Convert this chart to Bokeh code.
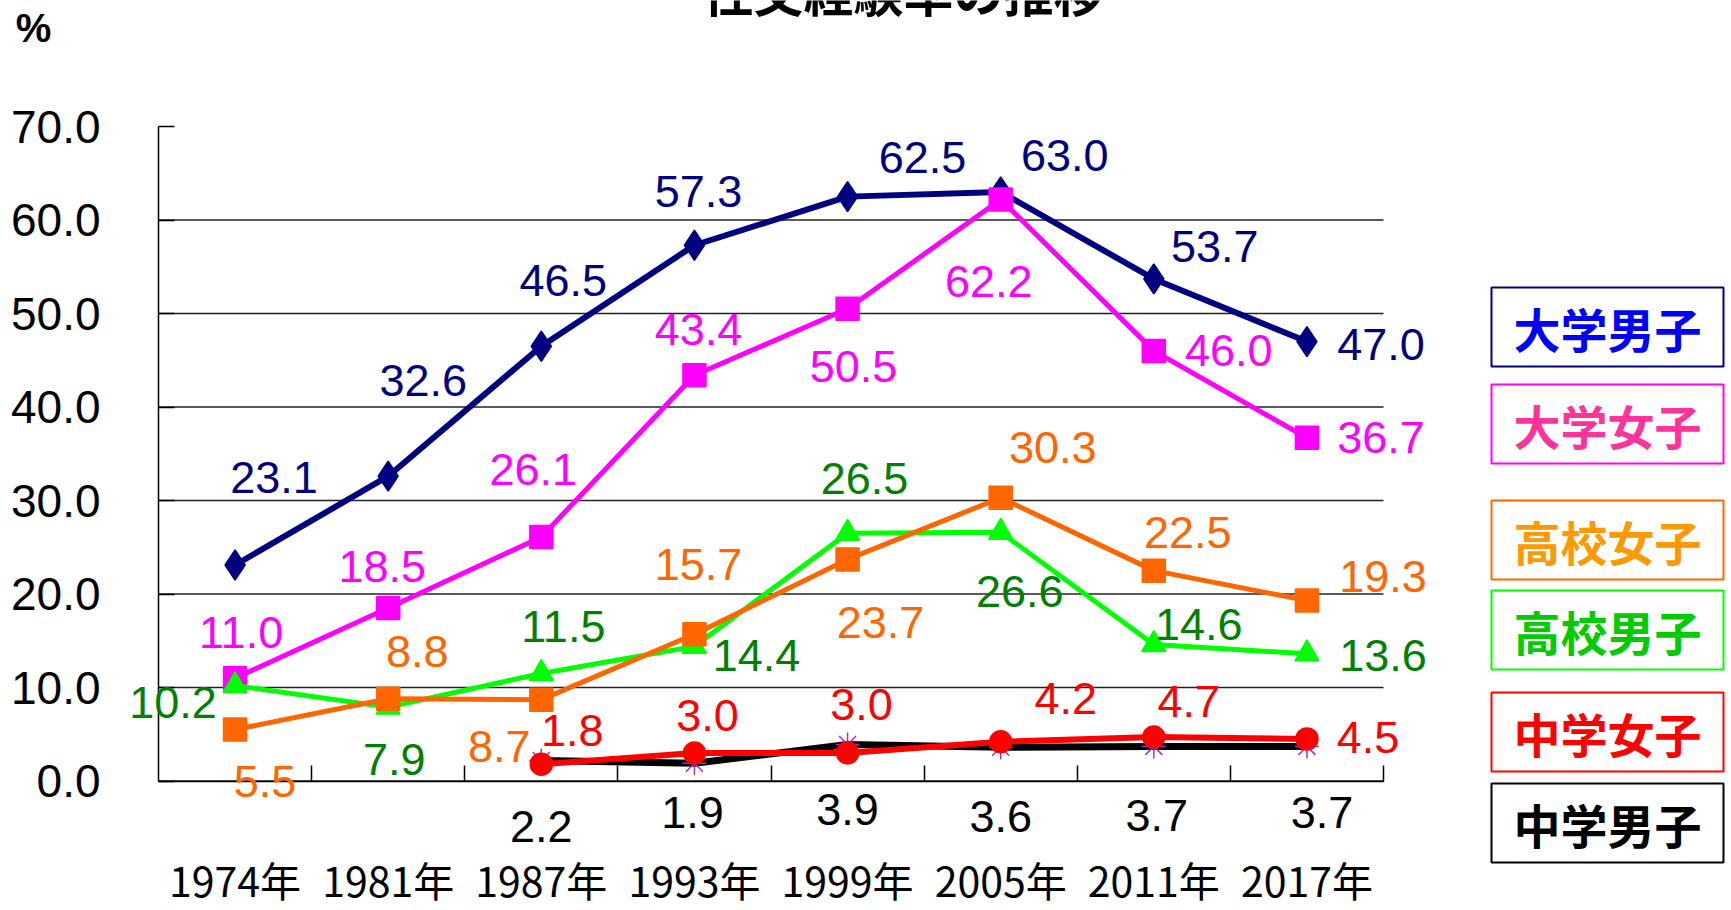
from bokeh.plotting import figure
from bokeh.models import (ColumnDataSource, LabelSet, Label, Range1d,
                          LinearAxis, FixedTicker)
from bokeh.layouts import row
from bokeh.core.properties import value
from bokeh.embed import file_html
from bokeh.resources import INLINE

# ---------------- data ----------------
title_text = "性交経験率の推移"
unit_text = "%"
years = ["1974年", "1981年", "1987年", "1993年", "1999年", "2005年", "2011年", "2017年"]
univ_male = [23.1, 32.6, 46.5, 57.3, 62.5, 63.0, 53.7, 47.0]
univ_female = [11.0, 18.5, 26.1, 43.4, 50.5, 62.2, 46.0, 36.7]
hs_female = [5.5, 8.8, 8.7, 15.7, 23.7, 30.3, 22.5, 19.3]
hs_male = [10.2, 7.9, 11.5, 14.4, 26.5, 26.6, 14.6, 13.6]
jh_female = [None, None, 1.8, 3.0, 3.0, 4.2, 4.7, 4.5]
jh_male = [None, None, 2.2, 1.9, 3.9, 3.6, 3.7, 3.7]
y_ticks = [0, 10, 20, 30, 40, 50, 60, 70]
legend_names = ["大学男子", "大学女子", "高校女子", "高校男子", "中学女子", "中学男子"]

# ---------------- layout / style (label offsets in px: dx right, dy down) ----------------
off_univ_male = [(39, -88), (35, -96), (22, -66), (4, -54), (75, -39), (64, -36), (61, -32), (74, 3)]
off_univ_female = [(6, -46), (-6, -42), (-8, -67), (4, -46), (6, 58), (-12, 82), (75, 0), (74, 0)]
off_hs_female = [(30, 52), (29, -47), (-42, 47), (4, -70), (33, 63), (52, -50), (34, -38), (76, -24)]
off_hs_male = [(-62, 17), (6, 52), (22, -47), (62, 9), (17, -55), (19, 59), (45, -20), (76, 2)]
off_jh_female = [None, None, (31, -34), (13, -37), (14, -48), (65, -43), (35, -36), (61, -1)]
off_jh_male = [None, None, (0, 66), (-2, 49), (0, 65), (0, 69), (3, 69), (15, 66)]

NUM_FONT = "Liberation Sans"
CJK_FONT = "Noto Sans CJK JP"
NUM_SIZE = "45px"

MAIN_W, H = 1456, 910
LEG_W = 275
# pixel position of the plotting area (x: 0..n, y: 0..70) inside the main canvas
AX_L, AX_T, AX_W, AX_H = 158, 126, 1225, 654.5

n = len(years)
y_max = y_ticks[-1]
centers = [i + 0.5 for i in range(n)]          # category slot centres on a 0..n axis
pos = dict(zip(years, centers))

ux = AX_W / n        # px per category
uy = AX_H / y_max    # px per percent
x_range = Range1d(-AX_L / ux, (MAIN_W - AX_L) / ux)
y_range = Range1d(-(H - AX_T - AX_H) / uy, y_max + AX_T / uy)

p = figure(width=MAIN_W, height=H, x_range=x_range, y_range=y_range,
           output_backend="svg", toolbar_location=None,
           x_axis_location=None, y_axis_location=None, min_border=0)
p.outline_line_color = None
p.background_fill_color = "white"
p.border_fill_color = "white"
p.grid.visible = False

# free pixel coordinates (canvas px, origin top-left) for title / unit text
p.extra_x_ranges = {"px": Range1d(0, MAIN_W)}
p.extra_y_ranges = {"px": Range1d(H, 0)}

# horizontal gridlines at the y ticks (below 70), spanning the category axis
p.segment(x0=0, x1=n, y0=y_ticks[:-1], y1=y_ticks[:-1], line_color="#222222", line_width=1.3)

# y axis: line + inward ticks, labels drawn as a label set
yaxis = LinearAxis(fixed_location=0, bounds=(0, y_max),
                   ticker=FixedTicker(ticks=y_ticks),
                   major_tick_in=16, major_tick_out=0,
                   major_tick_line_color="black", major_tick_line_width=1.5,
                   minor_tick_line_color=None,
                   axis_line_color="black", axis_line_width=1.5,
                   major_label_text_font_size="0px", major_label_text_alpha=0,
                   major_label_standoff=0)
p.add_layout(yaxis, "left")
# x axis: line + inward ticks at category boundaries
xaxis = LinearAxis(fixed_location=0, bounds=(0, n),
                   ticker=FixedTicker(ticks=list(range(1, n + 1))),
                   major_tick_in=16, major_tick_out=0,
                   major_tick_line_color="black", major_tick_line_width=1.5,
                   minor_tick_line_color=None,
                   axis_line_color="black", axis_line_width=1.5,
                   major_label_text_font_size="0px", major_label_text_alpha=0,
                   major_label_standoff=0)
p.add_layout(xaxis, "below")

ytick_src = ColumnDataSource(dict(x=[0] * len(y_ticks), y=y_ticks,
                                  t=[f"{v:.1f}" for v in y_ticks]))
p.add_layout(LabelSet(x="x", y="y", text="t", source=ytick_src, x_offset=-58,
                      text_font=value(NUM_FONT), text_font_size=value("46px"),
                      text_color="black", text_align="right", text_baseline="middle"))
year_src = ColumnDataSource(dict(x=centers, y=[0] * n, t=years))
p.add_layout(LabelSet(x="x", y="y", text="t", source=year_src, y_offset=-98,
                      text_font=value(CJK_FONT), text_font_size=value("41px"),
                      text_color="black", text_align="center", text_baseline="middle"))

series = [
    # values, offsets, line color, marker, marker size, marker fill, marker line, label color, line width
    (univ_male, off_univ_male, "#000080", "diamond", 30, "#000080", "#000080", "#000080", 6),
    (univ_female, off_univ_female, "#FF00FF", "square", 23, "#FF00FF", "#FF00FF", "#FF00FF", 5),
    (hs_male, off_hs_male, "#00FF00", "triangle", 24, "#00FF00", "#00FF00", "#008000", 5),
    (hs_female, off_hs_female, "#FF6600", "square", 23, "#FF6600", "#FF6600", "#FF6600", 5),
    (jh_male, off_jh_male, "#000000", "asterisk", 24, None, "#9933CC", "#000000", 7),
    (jh_female, off_jh_female, "#FF0000", "circle", 22, "#FF0000", "#FF0000", "#FF0000", 6),
]

for vals, offs, lc, mk, ms, mf, ml, tc, lw in series:
    xs, ys, txt, dxs, dys = [], [], [], [], []
    for yr, v, o in zip(years, vals, offs):
        if v is None:
            continue
        xs.append(pos[yr])
        ys.append(v)
        txt.append(f"{v:.1f}")
        dxs.append(o[0])
        dys.append(-o[1])
    src = ColumnDataSource(dict(x=xs, y=ys, label=txt, dx=dxs, dy=dys))
    p.line("x", "y", source=src, line_color=lc, line_width=lw)
    p.scatter("x", "y", source=src, marker=mk, size=ms,
              fill_color=mf, line_color=ml, line_width=1.5)
    p.add_layout(LabelSet(x="x", y="y", text="label", source=src,
                          x_offset="dx", y_offset="dy",
                          text_font=value(NUM_FONT), text_font_size=value(NUM_SIZE),
                          text_color=tc, text_align="center", text_baseline="middle"))

# title (cut off at the top edge, as in the source) and unit label
p.add_layout(Label(x=903, y=-11, x_range_name="px", y_range_name="px",
                   text=title_text, text_font=CJK_FONT, text_font_size="50px",
                   text_font_style="bold", text_color="black",
                   text_align="center", text_baseline="alphabetic"))
p.add_layout(Label(x=33, y=27.5, x_range_name="px", y_range_name="px",
                   text=unit_text, text_font=NUM_FONT, text_font_size="40px",
                   text_font_style="bold", text_color="black",
                   text_align="center", text_baseline="middle"))

# ---------------- legend panel ----------------
leg_tops = [287, 384, 500, 590, 692, 783]
leg_h = 79
leg_left, leg_right = 35, 267
leg_border = ["#000080", "#FF00FF", "#FF6600", "#00FF00", "#FF0000", "#000000"]
leg_text = ["#0000FF", "#FF3399", "#FF9900", "#00CC00", "#FF0000", "#000000"]

lg = figure(width=LEG_W, height=H, x_range=Range1d(0, LEG_W), y_range=Range1d(H, 0),
            output_backend="svg", toolbar_location=None,
            x_axis_location=None, y_axis_location=None, min_border=0)
lg.outline_line_color = None
lg.grid.visible = False
lsrc = ColumnDataSource(dict(
    name=legend_names,
    top=leg_tops,
    bottom=[t + leg_h for t in leg_tops],
    mid=[t + leg_h / 2 for t in leg_tops],
    bc=leg_border, tc=leg_text))
lg.quad(left=leg_left, right=leg_right, top="top", bottom="bottom", source=lsrc,
        fill_color="white", line_color="bc", line_width=2)
lg.text(x=(leg_left + leg_right) / 2, y="mid", text="name", source=lsrc,
        text_font=value(CJK_FONT), text_font_style="bold", text_font_size=value("47px"),
        text_color="tc", text_align="center", text_baseline="middle")

layout = row(p, lg)
open("out.html", "w").write(file_html(layout, INLINE))
